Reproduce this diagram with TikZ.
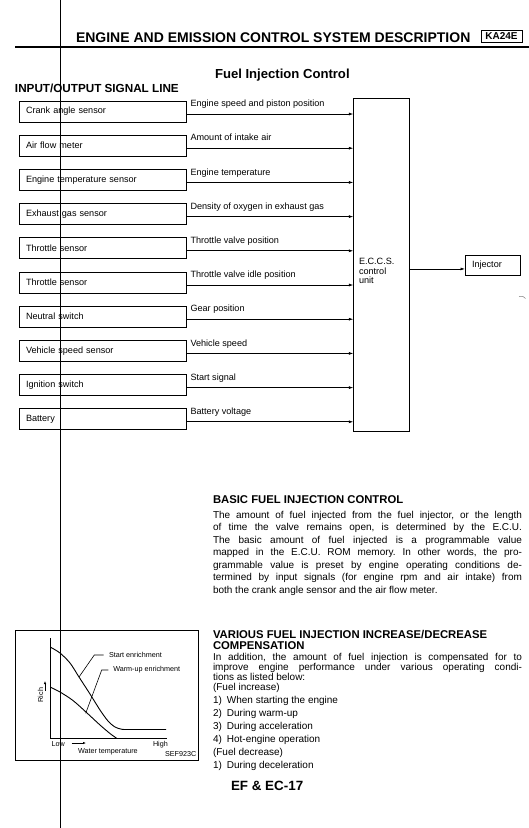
\documentclass[tikz,border=0pt]{standalone}
\usepackage{fontspec}
\setmainfont{Liberation Sans}
\usetikzlibrary{arrows.meta,calc}
\frenchspacing
\begin{document}
\begin{tikzpicture}[x=1pt,y=-1pt,
  every node/.style={inner sep=0pt, outer sep=0pt},
  sbox/.style={draw, line width=0.8pt, anchor=north west, minimum height=21pt, text width=153.5pt, inner xsep=7pt, inner ysep=0pt, align=left, font=\fontsize{9.1}{10}\selectfont},
  lab/.style={anchor=base west, font=\fontsize{9.1}{10}\selectfont},
  arr/.style={line width=0.7pt, -{Latex[length=4.5pt,width=3pt]}},
  gl/.style={font=\fontsize{7.2}{8}\selectfont},
  body/.style={anchor=base west, font=\fontsize{10}{12}\selectfont},
  bhead/.style={anchor=base west, font=\bfseries\fontsize{11.3}{12}\selectfont},
]
\useasboundingbox (0,0) rectangle (529,828);
\fill[white] (0,0) rectangle (529,828);
% page margin line
\draw[line width=1.2pt] (60.5,0) -- (60.5,828);
% header
\node[anchor=base west, font=\bfseries\fontsize{14}{14}\selectfont] (hdr) at (76,42) {ENGINE AND EMISSION CONTROL SYSTEM DESCRIPTION};
\node[draw, line width=0.8pt, anchor=north west, minimum width=41pt, minimum height=12pt, font=\bfseries\fontsize{10}{10}\selectfont] (ka) at (481,30) {KA24E};
\draw[line width=2pt] (15,47) -- (529,47);
\node[anchor=base west, font=\bfseries\fontsize{13.1}{14}\selectfont] (title) at (215,78) {Fuel Injection Control};
\node[anchor=base west, font=\bfseries\fontsize{11.7}{12}\selectfont] (io) at (15,92) {INPUT/OUTPUT SIGNAL LINE};
% control unit
\node[draw, line width=0.8pt, anchor=north west, minimum width=55.7pt, minimum height=333.7pt] (ecu) at (353.3,98) {};
\node[anchor=north west, align=left, font=\fontsize{9.1}{9.8}\selectfont] (ecutext) at (359,258) {E.C.C.S.\\control\\unit};
% sensors
\foreach \s/\l [count=\i from 0] in {Crank angle sensor/Engine speed and piston position, Air flow meter/Amount of intake air, Engine temperature sensor/Engine temperature, Exhaust gas sensor/Density of oxygen in exhaust gas, Throttle sensor/Throttle valve position, Throttle sensor/Throttle valve idle position, Neutral switch/Gear position, Vehicle speed sensor/Vehicle speed, Ignition switch/Start signal, Battery/Battery voltage}{
  \node[sbox] (s\i) at (19,{101+34.2*\i}) {\s};
  \node[lab] (l\i) at (190.5,{101+34.2*\i+5.7}) {\l};
  \coordinate (a\i) at ($(s\i.east)+(0,2.5)$);
  \draw[arr] (a\i) -- (a\i -| ecu.west);
}
% injector
\node[draw, line width=0.8pt, anchor=north west, minimum width=55pt, minimum height=19.3pt, text width=41pt, inner xsep=7pt, align=left, font=\fontsize{9.1}{10}\selectfont] (inj) at (465,255.7) {\raisebox{2.5pt}{Injector}};
\coordinate (injin) at ($(inj.west)+(0,3.6)$);
\draw[arr] (injin -| ecu.east) -- (injin);
% scan mark
\draw[line width=0.5pt, gray] (519,296.5) .. controls (523,296) .. (525.5,298.5);
% graph
\node[draw, line width=0.6pt, anchor=north west, minimum width=182.6pt, minimum height=130pt] (gbox) at (15.7,630.7) {};
\draw[line width=0.7pt] (50,638.3) -- (50,738.3) -- (166.7,738.3);
\draw[line width=0.9pt] plot[smooth] coordinates {(50.7,647.3) (60,653) (70,663) (79,677) (90,694) (100,710) (108,721) (115,727) (122,729.3) (130,729.5) (166,729.5)};
\draw[line width=0.9pt] plot[smooth] coordinates {(50.7,687.3) (60,692) (73,700.5) (86.7,712.7) (100,725) (110,733.5) (116.7,738.3)};
\node[gl, anchor=west] (gs) at (109,655) {Start enrichment};
\node[gl, anchor=west] (gw) at (113.3,670) {Warm-up enrichment};
\draw[line width=0.6pt] ($(gs.west)+(-5.5,0)$) -- (94.3,655) -- (79,677);
\draw[line width=0.6pt] ($(gw.west)+(-5,0)$) -- (101.7,670) -- (85.7,713.3);
\node[gl, rotate=90] (rich) at (40.5,695) {Rich};
\draw[line width=0.6pt, -{Latex[length=3pt,width=2.4pt]}] (45,691) -- (45,681);
\node[gl, anchor=west] (low) at (51.5,744.3) {Low};
\draw[line width=0.6pt, -{Latex[length=3pt,width=2.4pt]}] (71.5,743) -- (86,743);
\node[gl, anchor=west] (wt) at (78,751.7) {Water temperature};
\node[gl, anchor=west] (high) at (153,744.3) {High};
\node[gl, anchor=west] (sef) at (165,753.7) {SEF923C};
% basic fuel injection text
\node[bhead] (bh) at (213,503) {BASIC FUEL INJECTION CONTROL};
\node[body] (b1) at (213,518) {\makebox[309pt][s]{The amount of fuel injected from the fuel injector, or the length}};
\node[body] (b2) at (213,530.5) {\makebox[309pt][s]{of time the valve remains open, is determined by the E.C.U.}};
\node[body] (b3) at (213,543) {\makebox[309pt][s]{The basic amount of fuel injected is a programmable value}};
\node[body] (b4) at (213,555.5) {\makebox[309pt][s]{mapped in the E.C.U. ROM memory. In other words, the pro-}};
\node[body] (b5) at (213,568) {\makebox[309pt][s]{grammable value is preset by engine operating conditions de-}};
\node[body] (b6) at (213,580.5) {\makebox[309pt][s]{termined by input signals (for engine rpm and air intake) from}};
\node[body] (b7) at (213,593) {both the crank angle sensor and the air flow meter.};
% various compensation text
\node[bhead] (vh1) at (213,638) {VARIOUS FUEL INJECTION INCREASE/DECREASE};
\node[bhead] (vh2) at (213,649) {COMPENSATION};
\node[body] (v1) at (213,660) {\makebox[309pt][s]{In addition, the amount of fuel injection is compensated for to}};
\node[body] (v2) at (213,670) {\makebox[309pt][s]{improve engine performance under various operating condi-}};
\node[body] (v3) at (213,680) {tions as listed below:};
\node[body] (v4) at (213,690) {(Fuel increase)};
\node[body] (v5) at (213,703) {1)\hspace{5pt}When starting the engine};
\node[body] (v6) at (213,716) {2)\hspace{5pt}During warm-up};
\node[body] (v7) at (213,729) {3)\hspace{5pt}During acceleration};
\node[body] (v8) at (213,742) {4)\hspace{5pt}Hot-engine operation};
\node[body] (v9) at (213,755) {(Fuel decrease)};
\node[body] (v10) at (213,768) {1)\hspace{5pt}During deceleration};
\node[anchor=base west, font=\bfseries\fontsize{13.4}{14}\selectfont] (page) at (231,790) {EF \& EC-17};
\end{tikzpicture}
\end{document}
